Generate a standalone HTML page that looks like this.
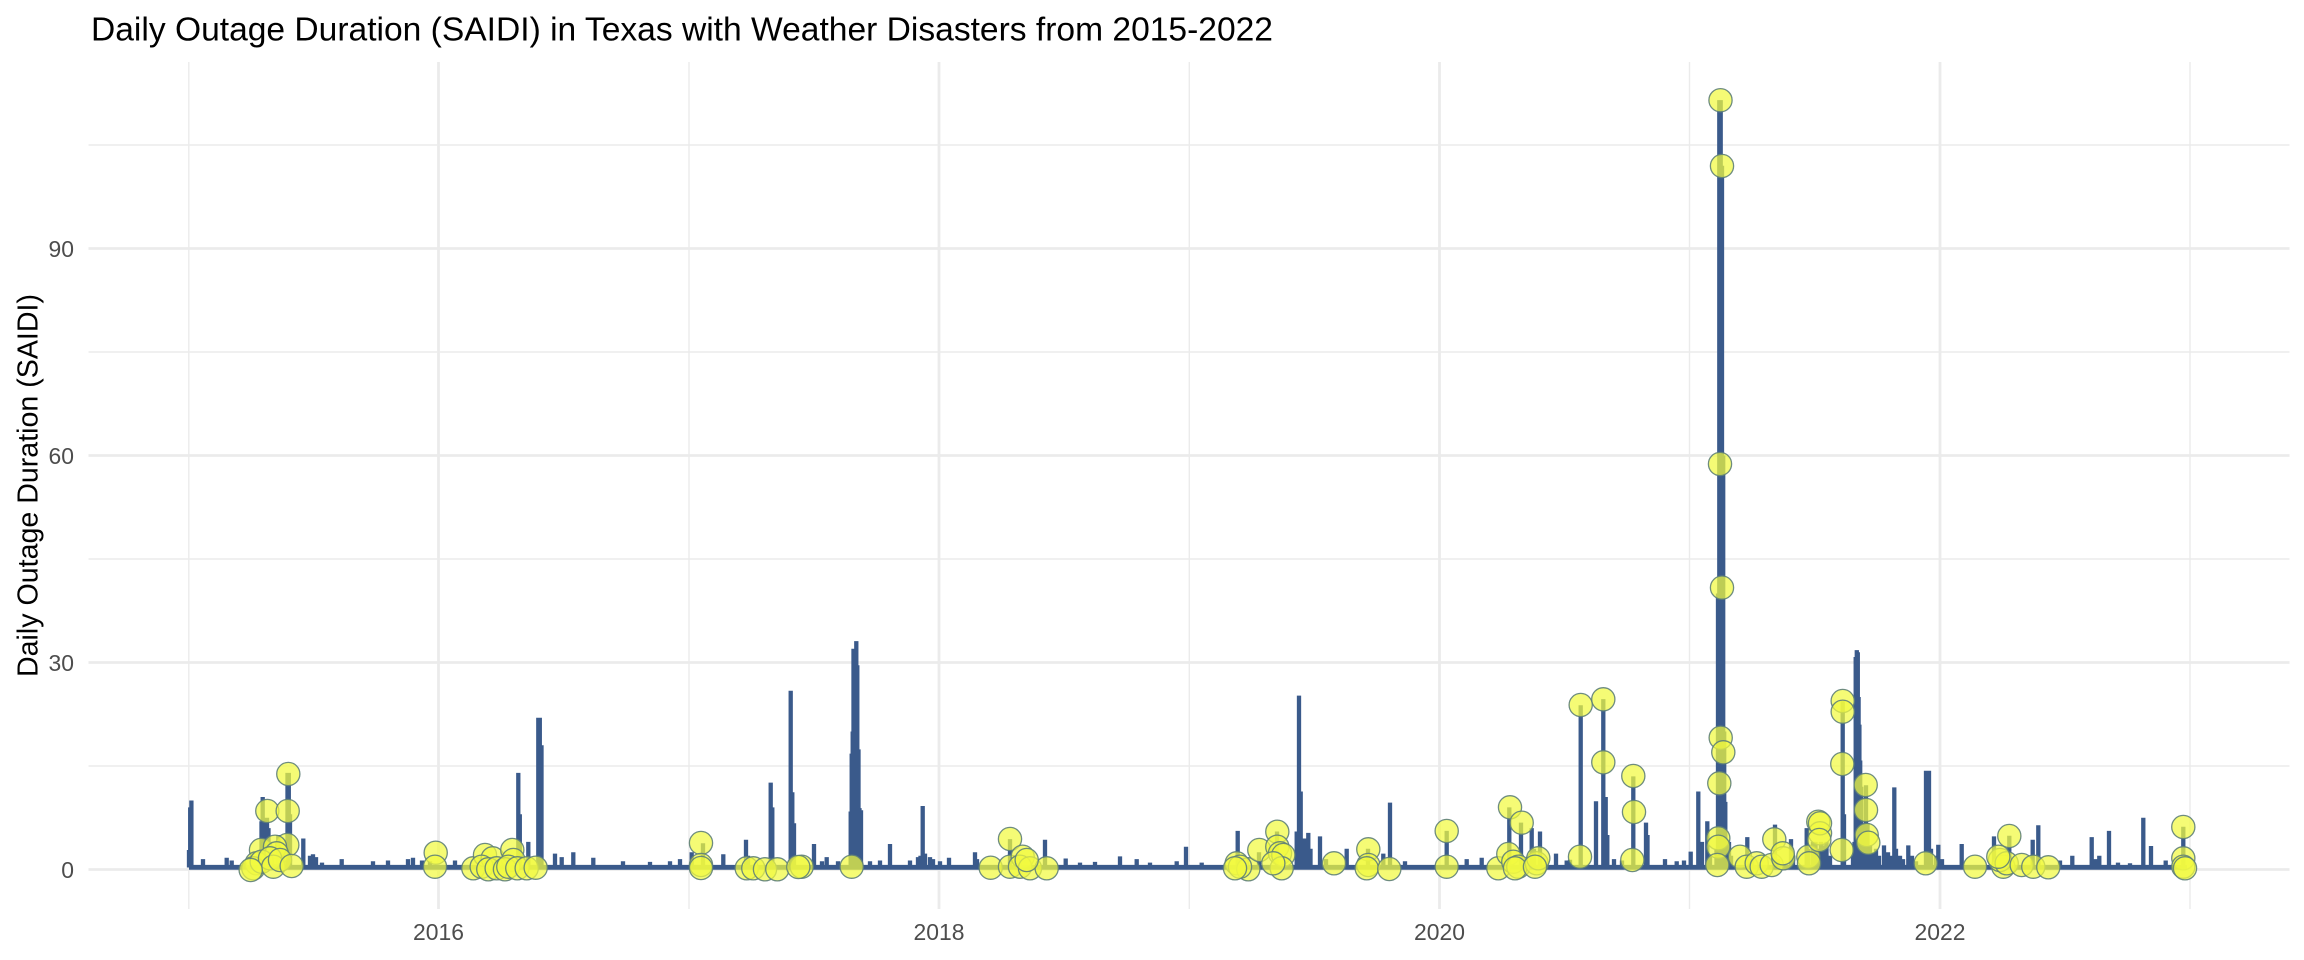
<!DOCTYPE html>
<html>
<head>
<meta charset="utf-8">
<style>
html,body{margin:0;padding:0;background:#fff;}
body{width:2304px;height:960px;overflow:hidden;}
svg{display:block;}
text{font-family:"Liberation Sans",Arial,sans-serif;}
</style>
</head>
<body>
<svg width="2304" height="960" viewBox="0 0 2304 960" xmlns="http://www.w3.org/2000/svg">
<rect x="0" y="0" width="2304" height="960" fill="#ffffff"/>

<g stroke="#EBEBEB" stroke-width="1.4" fill="none">
<path d="M88.5 766H2289.5M88.5 559H2289.5M88.5 352H2289.5M88.5 145H2289.5"/>
<path d="M188.8 62V909M689 62V909M1189.3 62V909M1689.5 62V909M2190 62V909"/>
</g>
<g stroke="#EBEBEB" stroke-width="2.8" fill="none">
<path d="M88.5 869.5H2289.5M88.5 662.5H2289.5M88.5 455.5H2289.5M88.5 248.5H2289.5"/>
<path d="M438.5 62V909M939 62V909M1439.5 62V909M1940 62V909"/>
</g>

<g stroke="#3A5A8B" fill="none" stroke-linecap="butt" stroke-linejoin="round">
<path stroke-width="4.8" d="M189 867.3H2187"/>
<path stroke-width="4.3" d="M189 867.5V850M190.2 867.5V807.4M191.4 867.5V800.5M203 867.5V859.15M226.7 867.5V857.8M231.7 867.5V860.5M245 867.5V862.6M261.5 867.5V821.2M262.7 867.5V797M264 867.5V817.75M265.5 867.5V817.75M267 867.5V817.75M268.5 867.5V828.1M270 867.5V841.9M278.3 867.5V835M283 867.5V848.8M287.5 867.5V772.9M288.8 867.5V772.9M290 867.5V814.3M303.3 867.5V838.45M310 867.5V855.7M313 867.5V854.3M316 867.5V857.1M322 867.5V862.6M341.7 867.5V859.15M373 867.5V861.2M388 867.5V860.5M408 867.5V859.15M413 867.5V857.8M422 867.5V860.5M430 867.5V861.2M455 867.5V860.5M484 867.5V860.5M508 867.5V859.15M518.3 867.5V772.9M519.8 867.5V814.3M528.3 867.5V841.9M538.3 867.5V717.7M539.8 867.5V717.7M541.5 867.5V745.3M555 867.5V853.6M561.7 867.5V857.1M573.3 867.5V852.25M593.3 867.5V857.8M623 867.5V861.2M650 867.5V861.9M670 867.5V861.2M680 867.5V859.15M691.7 867.5V852.25M703 867.5V843.3M723.3 867.5V854.3M746 867.5V839.8M748 867.5V855.7M770.7 867.5V782.6M772.3 867.5V807.4M790.7 867.5V690.8M792.3 867.5V792.2M794 867.5V823.3M814 867.5V844M822 867.5V861.2M826.7 867.5V857.1M838 867.5V861.2M850.7 867.5V811.5M851.7 867.5V753.6M852.7 867.5V731.5M853.5 867.5V648.7M854.5 867.5V676.3M855.5 867.5V703.9M856.3 867.5V641.1M857.3 867.5V665.3M858.5 867.5V749.4M859.5 867.5V808.1M861 867.5V810.2M870 867.5V861.2M880 867.5V860.5M890 867.5V844M910 867.5V860.5M918 867.5V857.1M920.5 867.5V855.7M922.7 867.5V806M925 867.5V853.6M930 867.5V857.1M933 867.5V859.15M940 867.5V861.2M949 867.5V857.8M975 867.5V852.25M977 867.5V859.15M1010 867.5V839.1M1045 867.5V839.8M1065.7 867.5V858.5M1080 867.5V862.6M1095 867.5V861.9M1120 867.5V856.4M1136.7 867.5V859.15M1150 867.5V862.6M1176.7 867.5V861.2M1186 867.5V846.7M1201.7 867.5V862.6M1237.7 867.5V830.9M1259 867.5V852.25M1277 867.5V831.55M1296.7 867.5V831.55M1299 867.5V695.6M1300.7 867.5V791.5M1305 867.5V838.45M1308.3 867.5V832.9M1310.5 867.5V848.8M1320 867.5V836.4M1326 867.5V859.15M1346.7 867.5V848.8M1368 867.5V848.8M1383.3 867.5V853.6M1390 867.5V802.6M1405 867.5V861.2M1446.7 867.5V830.9M1466.7 867.5V859.15M1481.7 867.5V857.8M1509.3 867.5V807.4M1521 867.5V822.6M1531.7 867.5V828.1M1534 867.5V848.8M1540 867.5V831.55M1556 867.5V853.6M1566.7 867.5V860.5M1570 867.5V859.8M1580.7 867.5V705.3M1596 867.5V801.2M1603.3 867.5V699.1M1605.7 867.5V797.05M1607.3 867.5V835M1614 867.5V859.15M1622 867.5V860.5M1633.3 867.5V776.35M1646 867.5V822.6M1647.5 867.5V835M1665 867.5V859.15M1676.7 867.5V861.2M1684 867.5V860.5M1690.7 867.5V851.6M1698.3 867.5V791.5M1700 867.5V848.8M1702 867.5V841.9M1707.3 867.5V821.2M1710 867.5V855.7M1716.5 867.5V848.8M1718 867.5V593.5M1719.3 867.5V100.15M1720.7 867.5V100.15M1722 867.5V165.7M1723.2 867.5V455.5M1724.2 867.5V731.5M1725.3 867.5V801.9M1727 867.5V848.8M1729 867.5V841.9M1731 867.5V855.7M1747.3 867.5V837.1M1752 867.5V859.15M1775 867.5V824.65M1778 867.5V859.15M1791 867.5V839.1M1793 867.5V855.7M1806.7 867.5V828.1M1808.3 867.5V848.8M1813 867.5V841.9M1815.5 867.5V841.9M1818 867.5V848.8M1821 867.5V841.9M1824 867.5V845.35M1826.5 867.5V841.9M1830 867.5V855.7M1842.7 867.5V701.1M1844 867.5V814.3M1853 867.5V855.7M1854.5 867.5V841.9M1855.7 867.5V657M1856.8 867.5V650.1M1857.8 867.5V652.2M1858.6 867.5V697M1859.4 867.5V724.6M1860.2 867.5V760.5M1861.2 867.5V786.7M1863 867.5V823.3M1866 867.5V785.3M1867.5 867.5V823.3M1870 867.5V845.35M1873 867.5V852.25M1876 867.5V848.8M1879 867.5V855.7M1884 867.5V845.35M1888 867.5V852.25M1891 867.5V855.7M1894.3 867.5V787.4M1896 867.5V848.8M1900 867.5V855.7M1903 867.5V859.15M1908.3 867.5V845.35M1912 867.5V855.7M1916 867.5V861.2M1926 867.5V770.8M1927.5 867.5V770.8M1929 867.5V770.8M1931 867.5V848.8M1936 867.5V855.7M1938.3 867.5V844.7M1942 867.5V859.15M1961.7 867.5V844M1994 867.5V836.4M2009.3 867.5V835.7M2032.7 867.5V839.8M2038.3 867.5V825.3M2060 867.5V860.5M2072.3 867.5V855.7M2091.7 867.5V837.1M2096 867.5V859.15M2099.3 867.5V855.7M2109 867.5V830.9M2118 867.5V862.6M2130 867.5V863.3M2143.3 867.5V817.75M2151 867.5V846M2165.7 867.5V860.5M2183.3 867.5V826.7"/>
</g>

<g fill="rgb(241,249,64)" fill-opacity="0.72" stroke="#5E7F78" stroke-opacity="0.9" stroke-width="1.3">
<circle cx="267.3" cy="811" r="11.6"/>
<circle cx="287.7" cy="811" r="11.6"/>
<circle cx="288.3" cy="774" r="11.6"/>
<circle cx="261" cy="850" r="11.6"/>
<circle cx="287.3" cy="845" r="11.6"/>
<circle cx="275" cy="846.7" r="11.6"/>
<circle cx="276.7" cy="853.3" r="11.6"/>
<circle cx="256.7" cy="863.3" r="11.6"/>
<circle cx="253.3" cy="868.3" r="11.6"/>
<circle cx="261.7" cy="861.7" r="11.6"/>
<circle cx="270" cy="858.3" r="11.6"/>
<circle cx="273.3" cy="866.7" r="11.6"/>
<circle cx="280" cy="860" r="11.6"/>
<circle cx="291.7" cy="866" r="11.6"/>
<circle cx="250.7" cy="870" r="11.6"/>
<circle cx="435.7" cy="852.7" r="11.6"/>
<circle cx="435" cy="866.7" r="11.6"/>
<circle cx="473.3" cy="868.3" r="11.6"/>
<circle cx="485" cy="855" r="11.6"/>
<circle cx="492.7" cy="858.3" r="11.6"/>
<circle cx="512.3" cy="850" r="11.6"/>
<circle cx="513.3" cy="860" r="11.6"/>
<circle cx="481.7" cy="866.7" r="11.6"/>
<circle cx="488.3" cy="869.3" r="11.6"/>
<circle cx="496.7" cy="868.3" r="11.6"/>
<circle cx="505" cy="869.3" r="11.6"/>
<circle cx="508.3" cy="866.7" r="11.6"/>
<circle cx="517.3" cy="868.3" r="11.6"/>
<circle cx="526.7" cy="868.3" r="11.6"/>
<circle cx="535.7" cy="867.7" r="11.6"/>
<circle cx="701" cy="843" r="11.6"/>
<circle cx="701" cy="865" r="11.6"/>
<circle cx="701" cy="868" r="11.6"/>
<circle cx="746.7" cy="868.3" r="11.6"/>
<circle cx="753.3" cy="868.3" r="11.6"/>
<circle cx="765" cy="869.3" r="11.6"/>
<circle cx="777.3" cy="869.3" r="11.6"/>
<circle cx="801.7" cy="866.7" r="11.6"/>
<circle cx="798.3" cy="867" r="11.6"/>
<circle cx="851.7" cy="866.7" r="11.6"/>
<circle cx="990.7" cy="867.7" r="11.6"/>
<circle cx="1010" cy="839" r="11.6"/>
<circle cx="1010" cy="866.7" r="11.6"/>
<circle cx="1022.7" cy="856.7" r="11.6"/>
<circle cx="1020" cy="866.7" r="11.6"/>
<circle cx="1030" cy="868.3" r="11.6"/>
<circle cx="1046.7" cy="868.3" r="11.6"/>
<circle cx="1026.7" cy="860" r="11.6"/>
<circle cx="1236.7" cy="863.3" r="11.6"/>
<circle cx="1248.3" cy="869.3" r="11.6"/>
<circle cx="1240" cy="866.7" r="11.6"/>
<circle cx="1235" cy="868.3" r="11.6"/>
<circle cx="1259.3" cy="850" r="11.6"/>
<circle cx="1277.3" cy="831.7" r="11.6"/>
<circle cx="1277.3" cy="846.7" r="11.6"/>
<circle cx="1280" cy="853.3" r="11.6"/>
<circle cx="1283.3" cy="855" r="11.6"/>
<circle cx="1281.7" cy="868.3" r="11.6"/>
<circle cx="1273.3" cy="863.3" r="11.6"/>
<circle cx="1334" cy="863.3" r="11.6"/>
<circle cx="1368.3" cy="849.3" r="11.6"/>
<circle cx="1368.3" cy="865" r="11.6"/>
<circle cx="1366.7" cy="868.3" r="11.6"/>
<circle cx="1389.3" cy="869" r="11.6"/>
<circle cx="1446.7" cy="831" r="11.6"/>
<circle cx="1446.7" cy="866.7" r="11.6"/>
<circle cx="1498.3" cy="868.3" r="11.6"/>
<circle cx="1510" cy="807.3" r="11.6"/>
<circle cx="1521.7" cy="822.7" r="11.6"/>
<circle cx="1508.3" cy="854" r="11.6"/>
<circle cx="1513.3" cy="861.7" r="11.6"/>
<circle cx="1518.3" cy="866.7" r="11.6"/>
<circle cx="1515" cy="868.3" r="11.6"/>
<circle cx="1536.7" cy="863.3" r="11.6"/>
<circle cx="1538.3" cy="858.3" r="11.6"/>
<circle cx="1535" cy="866.7" r="11.6"/>
<circle cx="1580.7" cy="705" r="11.6"/>
<circle cx="1580" cy="856.7" r="11.6"/>
<circle cx="1603.3" cy="699.3" r="11.6"/>
<circle cx="1603.3" cy="762.3" r="11.6"/>
<circle cx="1633.3" cy="776" r="11.6"/>
<circle cx="1634" cy="812" r="11.6"/>
<circle cx="1632.3" cy="860" r="11.6"/>
<circle cx="1720.7" cy="737.7" r="11.6"/>
<circle cx="1723.3" cy="752.3" r="11.6"/>
<circle cx="1719.3" cy="783.3" r="11.6"/>
<circle cx="1718.3" cy="838.3" r="11.6"/>
<circle cx="1718.3" cy="846.7" r="11.6"/>
<circle cx="1717.3" cy="865" r="11.6"/>
<circle cx="1720.5" cy="100.2" r="11.6"/>
<circle cx="1722" cy="166" r="11.6"/>
<circle cx="1720" cy="464" r="11.6"/>
<circle cx="1722" cy="587.6" r="11.6"/>
<circle cx="1740" cy="856.7" r="11.6"/>
<circle cx="1746.7" cy="866.7" r="11.6"/>
<circle cx="1756.7" cy="863.3" r="11.6"/>
<circle cx="1761.7" cy="866.7" r="11.6"/>
<circle cx="1771.7" cy="865" r="11.6"/>
<circle cx="1774.3" cy="839.3" r="11.6"/>
<circle cx="1783.3" cy="858.3" r="11.6"/>
<circle cx="1782.7" cy="853.3" r="11.6"/>
<circle cx="1808.3" cy="856.7" r="11.6"/>
<circle cx="1809" cy="863.3" r="11.6"/>
<circle cx="1818.3" cy="821.7" r="11.6"/>
<circle cx="1820" cy="833.3" r="11.6"/>
<circle cx="1820" cy="823.3" r="11.6"/>
<circle cx="1819.3" cy="840" r="11.6"/>
<circle cx="1842.7" cy="701" r="11.6"/>
<circle cx="1842.7" cy="711.7" r="11.6"/>
<circle cx="1842.3" cy="764" r="11.6"/>
<circle cx="1841.7" cy="850" r="11.6"/>
<circle cx="1865.7" cy="785" r="11.6"/>
<circle cx="1866" cy="810" r="11.6"/>
<circle cx="1866.7" cy="835" r="11.6"/>
<circle cx="1868.3" cy="842.7" r="11.6"/>
<circle cx="1925.7" cy="863.3" r="11.6"/>
<circle cx="1975" cy="866.7" r="11.6"/>
<circle cx="2009.3" cy="836" r="11.6"/>
<circle cx="2003.3" cy="866.7" r="11.6"/>
<circle cx="2000" cy="860" r="11.6"/>
<circle cx="2006.7" cy="863.3" r="11.6"/>
<circle cx="2021.7" cy="865" r="11.6"/>
<circle cx="2033.3" cy="866.7" r="11.6"/>
<circle cx="2048.3" cy="867.3" r="11.6"/>
<circle cx="1998.3" cy="856.7" r="11.6"/>
<circle cx="2183.3" cy="827" r="11.6"/>
<circle cx="2183.3" cy="858.3" r="11.6"/>
<circle cx="2183.3" cy="866.7" r="11.6"/>
<circle cx="2185" cy="868.3" r="11.6"/>
</g>

<g fill="#4D4D4D" font-size="22.9" text-anchor="end">
<text x="74" y="877.8">0</text>
<text x="74" y="670.8">30</text>
<text x="74" y="463.8">60</text>
<text x="74" y="256.8">90</text>
</g>
<g fill="#4D4D4D" font-size="22.9" text-anchor="middle">
<text x="438.5" y="940">2016</text>
<text x="939" y="940">2018</text>
<text x="1439.5" y="940">2020</text>
<text x="1940" y="940">2022</text>
</g>

<text x="0" y="0" font-size="28.6" fill="#000" text-anchor="middle" transform="translate(37.5,485.5) rotate(-90)">Daily Outage Duration (SAIDI)</text>

<text x="91" y="40.7" font-size="33.6" fill="#000">Daily Outage Duration (SAIDI) in Texas with Weather Disasters from 2015-2022</text>
</svg>
</body>
</html>
